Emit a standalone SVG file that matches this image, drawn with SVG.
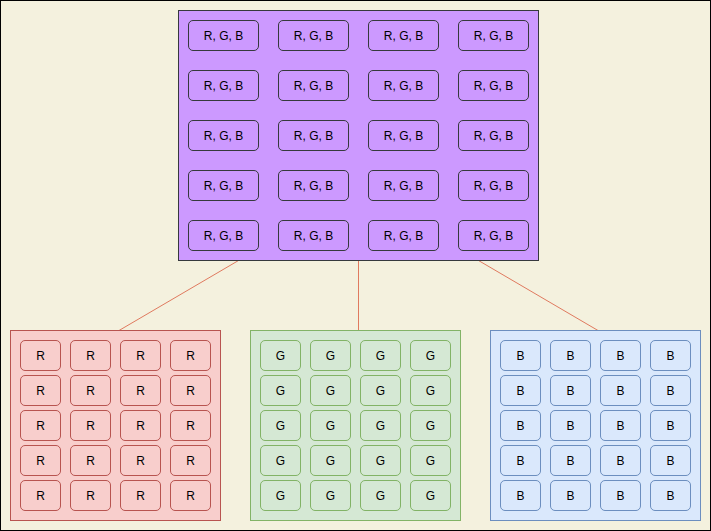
<svg xmlns="http://www.w3.org/2000/svg" width="711" height="531" viewBox="0 0 711 531">
<style>
.bg{fill:#F4F1DE;stroke:#000;stroke-width:1}
.purple{fill:#CC99FF;stroke:#36393d;stroke-width:1}
.red{fill:#f8cecc;stroke:#b85450;stroke-width:1}
.green{fill:#d5e8d4;stroke:#82b366;stroke-width:1}
.blue{fill:#dae8fc;stroke:#6c8ebf;stroke-width:1}
.conn{stroke:#E07A5F;stroke-width:1;fill:none}
text{font-family:"Liberation Sans",Arial,sans-serif;font-size:12px;fill:#000;text-anchor:middle;dominant-baseline:central}
</style>
<defs>
<g id="cRGB"><rect class="purple" x="0" y="0" width="70" height="30" rx="4.5"/><text x="35" y="15">R, G, B</text></g>
<g id="cR"><rect class="red" x="0" y="0" width="40" height="30" rx="4.5"/><text x="20" y="15">R</text></g>
<g id="cG"><rect class="green" x="0" y="0" width="40" height="30" rx="4.5"/><text x="20" y="15">G</text></g>
<g id="cB"><rect class="blue" x="0" y="0" width="40" height="30" rx="4.5"/><text x="20" y="15">B</text></g>
</defs>
<rect class="bg" x="0.5" y="0.5" width="710" height="530"/>
<g id="connectors">
<line class="conn" x1="238.5" y1="260.5" x2="119" y2="330.5"/>
<line class="conn" x1="358.5" y1="260.5" x2="358.5" y2="330.5"/>
<line class="conn" x1="478.5" y1="260.5" x2="598" y2="330.5"/>
</g>
<g id="rgb">
<rect class="purple" x="178.5" y="10.5" width="360" height="250"/>
<use href="#cRGB" x="188.5" y="20.5"/><use href="#cRGB" x="278.5" y="20.5"/><use href="#cRGB" x="368.5" y="20.5"/><use href="#cRGB" x="458.5" y="20.5"/>
<use href="#cRGB" x="188.5" y="70.5"/><use href="#cRGB" x="278.5" y="70.5"/><use href="#cRGB" x="368.5" y="70.5"/><use href="#cRGB" x="458.5" y="70.5"/>
<use href="#cRGB" x="188.5" y="120.5"/><use href="#cRGB" x="278.5" y="120.5"/><use href="#cRGB" x="368.5" y="120.5"/><use href="#cRGB" x="458.5" y="120.5"/>
<use href="#cRGB" x="188.5" y="170.5"/><use href="#cRGB" x="278.5" y="170.5"/><use href="#cRGB" x="368.5" y="170.5"/><use href="#cRGB" x="458.5" y="170.5"/>
<use href="#cRGB" x="188.5" y="220.5"/><use href="#cRGB" x="278.5" y="220.5"/><use href="#cRGB" x="368.5" y="220.5"/><use href="#cRGB" x="458.5" y="220.5"/>
</g>
<g id="red">
<rect class="red" x="10.5" y="330.5" width="210" height="190"/>
<use href="#cR" x="20.5" y="340.5"/><use href="#cR" x="70.5" y="340.5"/><use href="#cR" x="120.5" y="340.5"/><use href="#cR" x="170.5" y="340.5"/>
<use href="#cR" x="20.5" y="375.5"/><use href="#cR" x="70.5" y="375.5"/><use href="#cR" x="120.5" y="375.5"/><use href="#cR" x="170.5" y="375.5"/>
<use href="#cR" x="20.5" y="410.5"/><use href="#cR" x="70.5" y="410.5"/><use href="#cR" x="120.5" y="410.5"/><use href="#cR" x="170.5" y="410.5"/>
<use href="#cR" x="20.5" y="445.5"/><use href="#cR" x="70.5" y="445.5"/><use href="#cR" x="120.5" y="445.5"/><use href="#cR" x="170.5" y="445.5"/>
<use href="#cR" x="20.5" y="480.5"/><use href="#cR" x="70.5" y="480.5"/><use href="#cR" x="120.5" y="480.5"/><use href="#cR" x="170.5" y="480.5"/>
</g>
<g id="green">
<rect class="green" x="250.5" y="330.5" width="210" height="190"/>
<use href="#cG" x="260.5" y="340.5"/><use href="#cG" x="310.5" y="340.5"/><use href="#cG" x="360.5" y="340.5"/><use href="#cG" x="410.5" y="340.5"/>
<use href="#cG" x="260.5" y="375.5"/><use href="#cG" x="310.5" y="375.5"/><use href="#cG" x="360.5" y="375.5"/><use href="#cG" x="410.5" y="375.5"/>
<use href="#cG" x="260.5" y="410.5"/><use href="#cG" x="310.5" y="410.5"/><use href="#cG" x="360.5" y="410.5"/><use href="#cG" x="410.5" y="410.5"/>
<use href="#cG" x="260.5" y="445.5"/><use href="#cG" x="310.5" y="445.5"/><use href="#cG" x="360.5" y="445.5"/><use href="#cG" x="410.5" y="445.5"/>
<use href="#cG" x="260.5" y="480.5"/><use href="#cG" x="310.5" y="480.5"/><use href="#cG" x="360.5" y="480.5"/><use href="#cG" x="410.5" y="480.5"/>
</g>
<g id="blue">
<rect class="blue" x="490.5" y="330.5" width="210" height="190"/>
<use href="#cB" x="500.5" y="340.5"/><use href="#cB" x="550.5" y="340.5"/><use href="#cB" x="600.5" y="340.5"/><use href="#cB" x="650.5" y="340.5"/>
<use href="#cB" x="500.5" y="375.5"/><use href="#cB" x="550.5" y="375.5"/><use href="#cB" x="600.5" y="375.5"/><use href="#cB" x="650.5" y="375.5"/>
<use href="#cB" x="500.5" y="410.5"/><use href="#cB" x="550.5" y="410.5"/><use href="#cB" x="600.5" y="410.5"/><use href="#cB" x="650.5" y="410.5"/>
<use href="#cB" x="500.5" y="445.5"/><use href="#cB" x="550.5" y="445.5"/><use href="#cB" x="600.5" y="445.5"/><use href="#cB" x="650.5" y="445.5"/>
<use href="#cB" x="500.5" y="480.5"/><use href="#cB" x="550.5" y="480.5"/><use href="#cB" x="600.5" y="480.5"/><use href="#cB" x="650.5" y="480.5"/>
</g>
</svg>
